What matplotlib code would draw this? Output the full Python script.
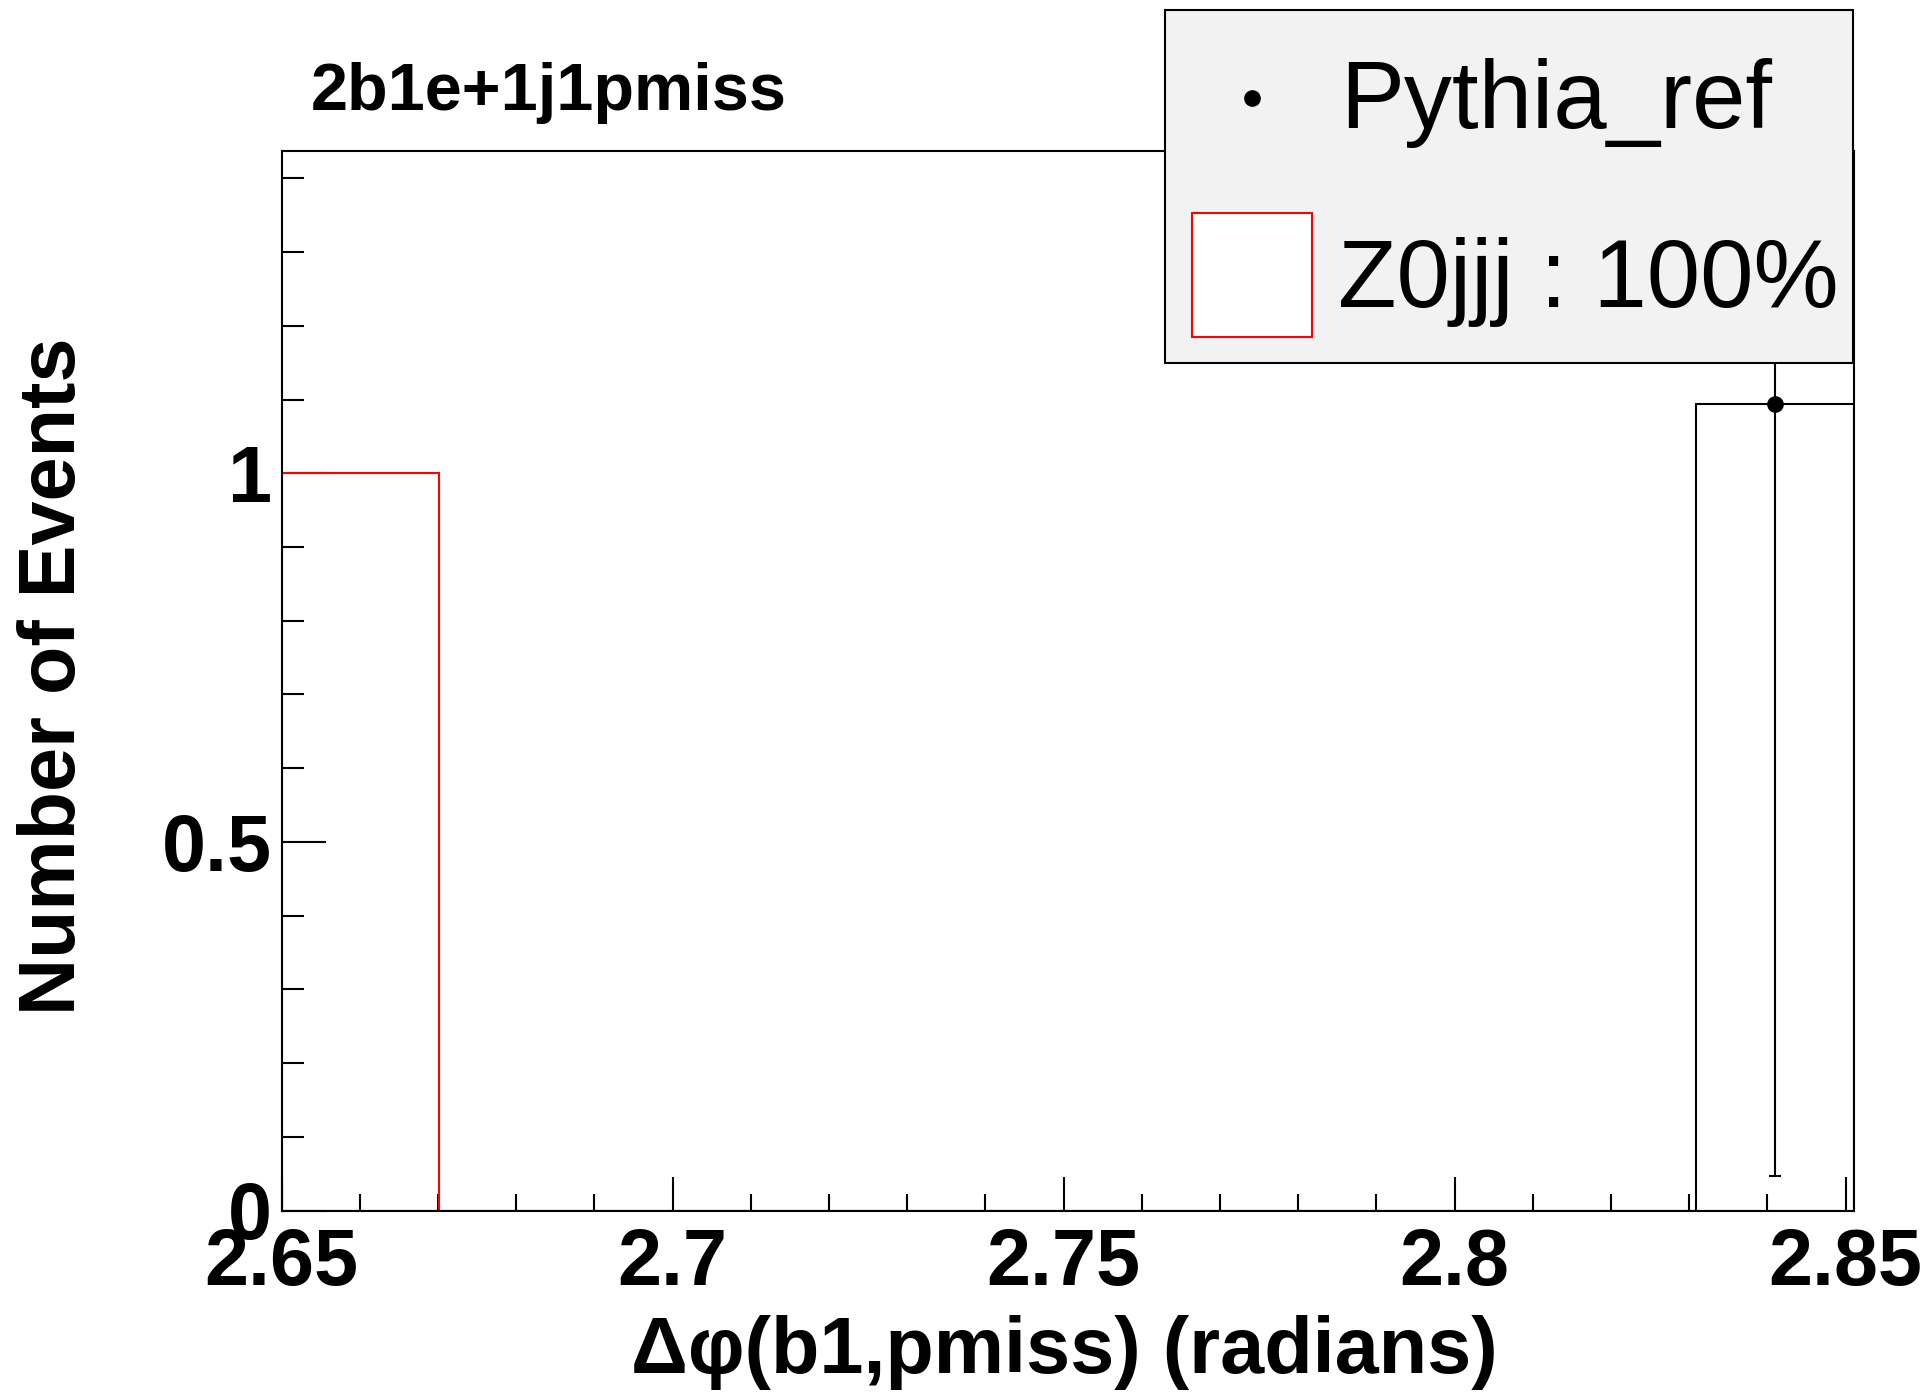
import matplotlib.pyplot as plt
import numpy as np
from matplotlib.patches import Rectangle
from matplotlib.lines import Line2D

plt.rcParams['font.family'] = ['Liberation Sans', 'DejaVu Sans']

# binning of the histograms
x_lo = 2.65
x_hi = 2.851
n_bins = 10

# bin contents
z0jjj_counts = [1, 0, 0, 0, 0, 0, 0, 0, 0, 0]
pythia_counts = [0, 0, 0, 0, 0, 0, 0, 0, 0, 1.094]
pythia_errors = [0, 0, 0, 0, 0, 0, 0, 0, 0, 1.047]

x_ticks = [2.65, 2.7, 2.75, 2.8, 2.85]
x_ticklabels = ['2.65', '2.7', '2.75', '2.8', '2.85']
y_ticks = [0, 0.5, 1]
y_ticklabels = ['0', '0.5', '1']

W, H = 1927, 1392
fig = plt.figure(figsize=(W / 100, H / 100), dpi=100)
ax = fig.add_axes([281.5 / W, 1 - 1210.5 / H, 1572 / W, 1059.3 / H])

edges = np.linspace(x_lo, x_hi, n_bins + 1)
centers = 0.5 * (edges[:-1] + edges[1:])

# red MC histogram, black reference histogram
ax.stairs(z0jjj_counts, edges, color='red', linewidth=1.5, zorder=2)
ax.stairs(pythia_counts, edges, color='black', linewidth=1.5, zorder=3)

# reference points with errors (only filled bins)
pc = np.array(pythia_counts)
pe = np.array(pythia_errors)
mask = pc > 0
ax.errorbar(centers[mask], pc[mask], yerr=pe[mask], fmt='o', color='black',
            ms=11, elinewidth=1.5, capsize=4, capthick=1.5, zorder=4)

ax.set_xlim(x_lo, x_hi)
ax.set_ylim(0, 1.437)

ax.set_xticks(x_ticks)
ax.set_xticklabels(x_ticklabels)
ax.set_xticks(np.arange(2.66, 2.85, 0.01), minor=True)
ax.set_yticks(y_ticks)
ax.set_yticklabels(y_ticklabels)
ax.set_yticks(np.arange(0.1, 1.41, 0.1), minor=True)

for lab in ax.get_xticklabels() + ax.get_yticklabels():
    lab.set_fontweight('bold')
    lab.set_fontsize(57)

ax.tick_params(axis='x', which='major', direction='in', length=24.5, width=1.5, pad=12)
ax.tick_params(axis='x', which='minor', direction='in', length=12.2, width=1.5)
ax.tick_params(axis='y', which='major', direction='in', length=31.7, width=1.5, pad=7)
ax.tick_params(axis='y', which='minor', direction='in', length=15.8, width=1.5)
ax.tick_params(top=False, right=False, which='both')
for sp in ax.spines.values():
    sp.set_linewidth(1.5)

# axis titles and plot title
fig.text(55 / W, 1 - 676 / H, 'Number of Events', rotation=90, ha='center', va='center',
         fontsize=57, fontweight='bold')
fig.text(1064 / W, 1 - 1373 / H, 'Δφ(b1,pmiss) (radians)', ha='center', va='baseline',
         fontsize=57, fontweight='bold')
fig.text(311 / W, 1 - 110 / H, '2b1e+1j1pmiss', ha='left', va='baseline',
         fontsize=48, fontweight='bold')

# legend box
fig.add_artist(Rectangle((1165 / W, 1 - 363 / H), 688 / W, 353 / H, transform=fig.transFigure,
                         facecolor='#f2f2f2', edgecolor='black', linewidth=1.5, zorder=10))
fig.add_artist(Line2D([1251.5 / W], [1 - 98 / H], marker='o', ms=11, color='black',
                      linestyle='none', transform=fig.transFigure, zorder=11))
fig.add_artist(Rectangle((1192 / W, 1 - 337 / H), 120 / W, 124 / H, transform=fig.transFigure,
                         facecolor='white', edgecolor='red', linewidth=1.5, zorder=11))
fig.text(1340 / W, 1 - 128 / H, 'Pythia_ref', ha='left', va='baseline', fontsize=69, zorder=12)
fig.text(1338 / W, 1 - 307 / H, 'Z0jjj : 100%', ha='left', va='baseline', fontsize=69, zorder=12)

fig.savefig('out.png', dpi=100)
